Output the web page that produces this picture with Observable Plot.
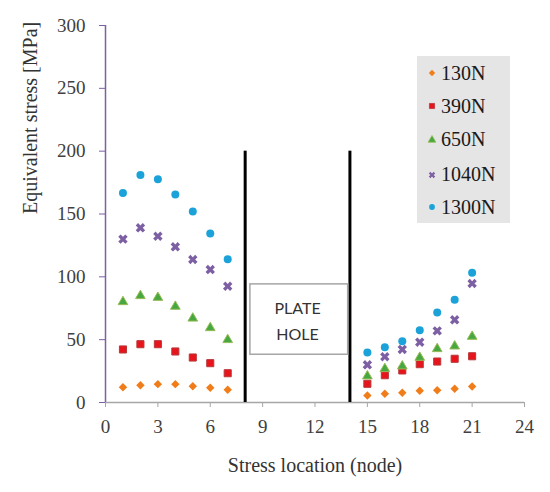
<!DOCTYPE html>
<html>
<head>
<meta charset="utf-8">
<script src="https://cdn.jsdelivr.net/npm/d3@7"></script>
<script src="https://cdn.jsdelivr.net/npm/@observablehq/plot@0.6"></script>
<style>
  html, body { margin: 0; padding: 0; background: white; }
  #wrap { position: relative; width: 550px; height: 492px; }
  #legend { position: absolute; left: 417px; top: 56px; width: 93px; height: 167px; background: #e5e5e5;
            font-family: 'Liberation Serif', serif; font-size: 20px; color: #1a1a1a; }
  #legend .item { position: absolute; left: 0; height: 20px; display: flex; align-items: center; }
  #legend svg { margin-left: 10px; margin-right: 4px; }
</style>
</head>
<body>
<div id="wrap"><div id="legend"></div></div>
<script>
// ---- data ----
const nodes = [1, 2, 3, 4, 5, 6, 7, 15, 16, 17, 18, 19, 20, 21];
const loads = ["130N", "390N", "650N", "1040N", "1300N"];
const s130  = [12.2, 13.8, 14.6, 14.6, 13.0, 11.7, 10.1, 5.6, 6.9, 7.7, 9.3, 9.8, 10.9, 12.7];
const s390  = [42.2, 46.4, 46.4, 40.6, 35.8, 31.3, 23.3, 14.9, 21.7, 25.5, 30.5, 32.6, 34.8, 36.8];
const s650  = [80.1, 84.9, 83.5, 76.4, 67.0, 59.4, 49.9, 21.0, 26.8, 28.9, 35.8, 42.7, 44.8, 52.5];
const s1040 = [130.0, 139.0, 132.3, 123.9, 113.8, 105.8, 92.5, 30.0, 36.4, 42.2, 48.0, 57.0, 65.8, 94.7];
const s1300 = [166.8, 181.0, 177.6, 165.5, 152.0, 134.4, 114.0, 39.8, 44.0, 48.8, 57.5, 71.6, 81.7, 103.2];
const xTicks = [0, 3, 6, 9, 12, 15, 18, 21, 24];
const yTicks = [0, 50, 100, 150, 200, 250, 300];
const holeEdges = [8, 14];
const holeEdgeTop = 200;
const holeLabel = "PLATE\nHOLE";
const holeBox = [{x1: 8.3, x2: 13.9, y1: 38, y2: 94, cx: 11, cy: 66.5}];
const xLabel = "Stress location (node)";
const yLabel = "Equivalent stress [MPa]";

// ---- styles per series ----
const seriesValues = [s130, s390, s650, s1040, s1300];
const symbols = ["diamond2", "square", "triangle", "cross", "circle"];
const fills   = ["#f07d1a", "#e8141c", "#46a83f", "#7d5fa3", "#1ba3d9"];
const strokes = ["#f07d1a", "#b8383a", "#98bb58", "#7d5fa3", "#1ba3d9"];
const rotates = [0, 0, 0, 45, 0];
const radii   = [3.8, 4, 3.6, 4.2, 4];

const rows = loads.flatMap((load, i) =>
  nodes.map((n, j) => ({node: n, stress: seriesValues[i][j], load, i})));

const dotMarks = loads.map((load, i) =>
  Plot.dot(rows.filter(d => d.i === i), {
    x: "node", y: "stress", symbol: () => symbols[i], r: radii[i],
    fill: fills[i], stroke: strokes[i], strokeWidth: i === 1 || i === 2 ? 1 : 0, rotate: rotates[i]
  }));

const chart = Plot.plot({
  width: 550, height: 492,
  marginLeft: 105, marginRight: 26, marginTop: 25, marginBottom: 90,
  style: {fontFamily: "'Liberation Serif', serif", fontSize: "19px", color: "#404040", background: "white"},
  x: {domain: [0, 24]},
  y: {domain: [0, 300]},
  symbol: {type: "identity"},
  marks: [
    Plot.axisX(xTicks, {tickSize: 5, tickPadding: 12, stroke: "#a6a6a6", label: null}),
    Plot.axisY(yTicks, {tickSize: 6, tickPadding: 14, stroke: "#7d5fa3", label: null}),
    Plot.ruleY([0], {stroke: "#a6a6a6", strokeWidth: 1.3}),
    Plot.ruleX([0], {stroke: "#7d5fa3", strokeWidth: 1.5}),
    Plot.ruleX(holeEdges, {x: d => d, y1: 0, y2: holeEdgeTop, stroke: "black", strokeWidth: 3}),
    Plot.rect(holeBox, {x1: "x1", x2: "x2", y1: "y1", y2: "y2", fill: "white", stroke: "#a6a6a6", strokeWidth: 1.5}),
    Plot.text(holeBox, {x: "cx", y: "cy", text: () => holeLabel, fontFamily: "Lato, 'Open Sans', sans-serif",
      fontSize: 16, lineHeight: 1.6, fill: "#333", textAnchor: "middle", lineAnchor: "middle"}),
    ...dotMarks,
    Plot.text([xLabel], {text: d => d, frameAnchor: "bottom", dy: 63, fontSize: 20, fill: "#333", lineAnchor: "middle"}),
    Plot.text([yLabel], {text: d => d, frameAnchor: "left", dx: -75, rotate: -90, fontSize: 20, fill: "#333", lineAnchor: "middle"})
  ]
});
document.getElementById("wrap").prepend(chart);

// ---- legend ----
const legend = document.getElementById("legend");
const itemTops = [7, 40, 73.5, 108.5, 141];
loads.forEach((load, i) => {
  const item = document.createElement("div");
  item.className = "item";
  item.style.top = itemTops[i] + "px";
  const typeMap = {diamond2: d3.symbolDiamond2, square: d3.symbolSquare, triangle: d3.symbolTriangle, cross: d3.symbolCross, circle: d3.symbolCircle};
  const path = d3.symbol(typeMap[symbols[i]], 26)();
  item.innerHTML = `<svg width="10" height="10" viewBox="-5 -5 10 10"><path d="${path}" fill="${fills[i]}" stroke="${strokes[i]}" stroke-width="${i===1||i===2?0.8:0}" transform="rotate(${rotates[i]})"/></svg><span>${load}</span>`;
  legend.appendChild(item);
});
</script>
</body>
</html>
